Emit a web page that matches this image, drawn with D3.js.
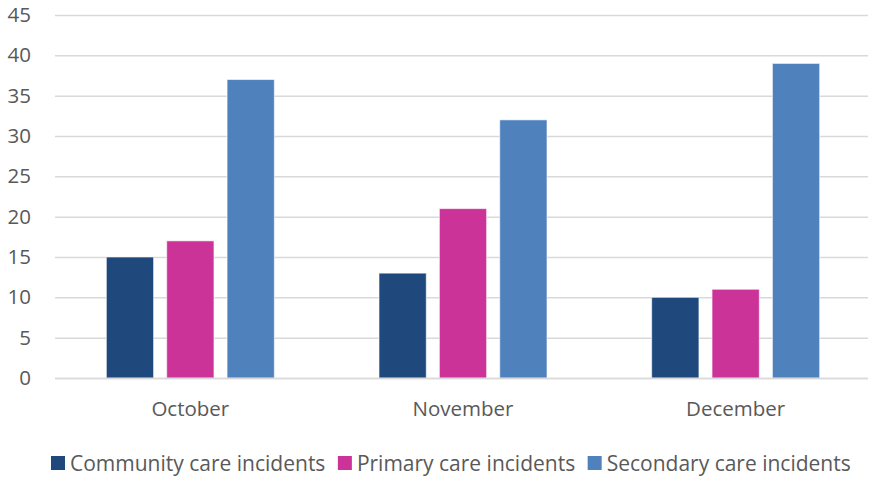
<!DOCTYPE html>
<html>
<head>
<meta charset="utf-8">
<script src="https://cdn.jsdelivr.net/npm/d3@7"></script>
<style>
  html, body { margin: 0; padding: 0; background: #fff; }
  svg text { font-family: "Open Sans", "Lato", sans-serif; fill: #595959; }
</style>
</head>
<body>
<svg id="chart" width="869" height="477"></svg>
<script>
// Monthly incident counts by care setting
const months = ["October", "November", "December"];
const seriesNames = ["Community care incidents", "Primary care incidents", "Secondary care incidents"];
const community = [15, 13, 10];
const primary = [17, 21, 11];
const secondary = [37, 32, 39];
const yTicks = [0, 5, 10, 15, 20, 25, 30, 35, 40, 45];
const colors = ["#1F497D", "#CC3399", "#4F81BD"];

const seriesValues = [community, primary, secondary];

const svg = d3.select("#chart");
const plotLeft = 55, plotRight = 868, plotTop = 15, plotBottom = 378;

// Month bands (centres at roughly 190, 463, 736)
const x = d3.scaleBand().domain(months).range([54, 872]).paddingInner(0).paddingOuter(0);
const y = d3.scaleLinear().domain([0, 45]).range([plotBottom, plotTop]);

// Inner band for the three series inside each month
const groupWidth = 168;
const xs = d3.scaleBand().domain(seriesNames).range([0, groupWidth]).paddingInner(0.217);

// Gridlines and value labels
const yAxis = d3.axisLeft(y).tickValues(yTicks).tickSize(-(plotRight - plotLeft)).tickPadding(24);
const gy = svg.append("g").attr("transform", `translate(${plotLeft},0)`).call(yAxis);
gy.attr("font-size", null).attr("font-family", null);
gy.select(".domain").remove();
gy.selectAll(".tick line").attr("stroke", "#d9d9d9").attr("stroke-width", 1.5);
gy.selectAll(".tick text").style("font-size", "20.5px").style("fill", "#595959");

// Bars
const rows = [];
months.forEach((m, i) => {
  seriesNames.forEach((s, j) => rows.push({ month: m, series: s, value: seriesValues[j][i], color: colors[j] }));
});

svg.append("g").selectAll("rect").data(rows).join("rect")
  .attr("x", d => x(d.month) + (x.bandwidth() - groupWidth) / 2 + xs(d.series))
  .attr("y", d => y(d.value))
  .attr("width", xs.bandwidth())
  .attr("height", d => y(0) - y(d.value))
  .attr("fill", d => d.color)
  .attr("stroke", "#ffffff")
  .attr("stroke-opacity", 0.6)
  .attr("stroke-width", 1);

// Category axis
const xAxis = d3.axisBottom(x).tickSize(0).tickPadding(23);
const gx = svg.append("g").attr("transform", `translate(0,${plotBottom})`).call(xAxis);
gx.attr("font-size", null).attr("font-family", null);
gx.select(".domain").attr("d", `M${plotLeft},0.5H${plotRight}`).attr("stroke", "#d9d9d9").attr("stroke-width", 1.5);
gx.selectAll(".tick text").style("font-size", "20.5px").style("fill", "#595959");

// Legend
const legend = svg.append("g");
let cx = 51;
seriesNames.forEach((s, j) => {
  const g = legend.append("g");
  g.append("rect").attr("x", cx).attr("y", 456).attr("width", 14).attr("height", 14).attr("fill", colors[j]);
  const t = g.append("text").attr("x", cx + 19).attr("y", 471).style("font-size", "21px").text(s);
  const w = t.node().getComputedTextLength();
  cx += 19 + w + 12.5;
});
</script>
</body>
</html>
